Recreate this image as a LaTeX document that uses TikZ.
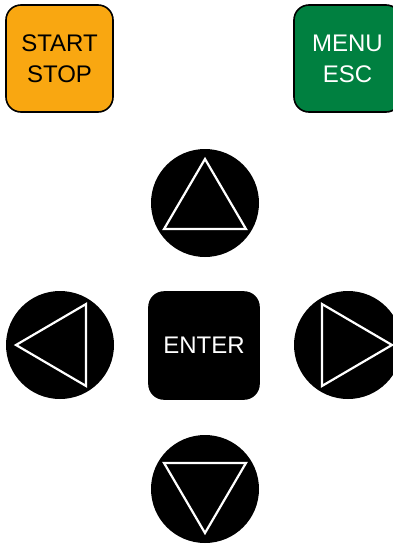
\documentclass[tikz,border=0pt]{standalone}
\usepackage{fontspec}
\setmainfont{Liberation Sans}
\usepackage{tikz}
\usetikzlibrary{calc}
\definecolor{startorange}{RGB}{249,167,17}
\definecolor{menugreen}{RGB}{0,128,64}

\tikzset{
  keybox/.style={draw=black,line width=1.6pt,rounded corners=15pt,minimum size=107pt,inner sep=0pt,align=center,font=\fontsize{24}{31}\selectfont},
  arrowkey/.style={circle,fill=black,minimum size=108pt,inner sep=0pt},
  tri/.style={draw=white,line width=2.2pt,line join=miter}
}

\begin{document}
\begin{tikzpicture}[x=1pt,y=-1pt]
\useasboundingbox (0,0) rectangle (393,544);
\clip (0,0) rectangle (393,544);
\node[keybox,fill=startorange,text=black] (start) at (59.5,58.5) {START\\STOP};
\node[keybox,fill=menugreen,text=white] (menu) at (347.5,58.5) {MENU\\ESC};
\node[arrowkey] (up) at (205,203) {};
\node[arrowkey] (left) at (60,345) {};
\node[arrowkey] (right) at (348,345) {};
\node[arrowkey] (down) at (205,489) {};
\node[keybox,fill=black,text=white,minimum width=110pt] (enter) at (204,345.5) {ENTER};
\foreach \n/\a in {up/270,left/180,right/0,down/90}
  \draw[tri] ($(\n)+(\a:44)$) -- ($(\n)+(\a+122.4:48.5)$) -- ($(\n)+(\a-122.4:48.5)$) -- cycle;
\end{tikzpicture}
\end{document}
